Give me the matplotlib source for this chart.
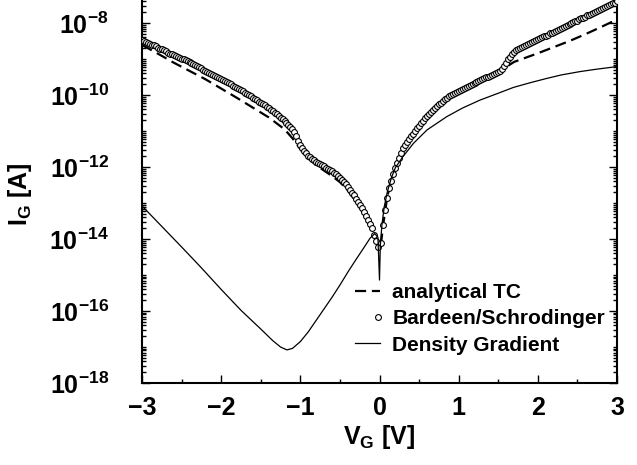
import numpy as np
import matplotlib
matplotlib.use("Agg")
import matplotlib.pyplot as plt
from matplotlib.ticker import FixedLocator, MultipleLocator, LogLocator, NullFormatter, FuncFormatter
from matplotlib.legend_handler import HandlerLine2D

plt.rcParams['font.family'] = ['Liberation Sans', 'DejaVu Sans']
plt.rcParams['font.weight'] = 'bold'
plt.rcParams['mathtext.fontset'] = 'custom'
plt.rcParams['mathtext.rm'] = 'Liberation Sans:bold'
plt.rcParams['mathtext.it'] = 'Liberation Sans:bold'
plt.rcParams['mathtext.bf'] = 'Liberation Sans:bold'

# ---- data (log10 of gate current in A) ----
# Bardeen/Schrodinger (circles): left branch
bs_v_left = [-3.000, -2.975, -2.950, -2.925, -2.900, -2.875, -2.850, -2.825, -2.800, -2.775,
             -2.750, -2.725, -2.700, -2.675, -2.650, -2.625, -2.600, -2.575, -2.550, -2.525,
             -2.500, -2.475, -2.450, -2.425, -2.400, -2.375, -2.350, -2.325, -2.300, -2.275,
             -2.250, -2.225, -2.200, -2.175, -2.150, -2.125, -2.100, -2.075, -2.050, -2.025,
             -2.000, -1.975, -1.950, -1.925, -1.900, -1.875, -1.850, -1.825, -1.800, -1.775,
             -1.750, -1.725, -1.700, -1.675, -1.650, -1.625, -1.600, -1.575, -1.550, -1.525,
             -1.500, -1.475, -1.450, -1.425, -1.400, -1.375, -1.350, -1.325, -1.300, -1.275,
             -1.250, -1.225, -1.200, -1.175, -1.150, -1.125, -1.100, -1.075, -1.050, -1.025,
             -1.000, -0.975, -0.950, -0.925, -0.900, -0.875, -0.850, -0.825, -0.800, -0.775,
             -0.750, -0.725, -0.700, -0.675, -0.650, -0.625, -0.600, -0.575, -0.550, -0.525,
             -0.500, -0.475, -0.450, -0.425, -0.400, -0.375, -0.350, -0.325, -0.300, -0.275,
             -0.250, -0.225, -0.200, -0.175, -0.150, -0.125, -0.100, -0.070, -0.040, -0.015]
bs_log_left = [-8.47, -8.50, -8.52, -8.55, -8.57, -8.60, -8.62, -8.65, -8.68, -8.71,
               -8.73, -8.76, -8.79, -8.82, -8.85, -8.87, -8.90, -8.92, -8.95, -8.97,
               -8.99, -9.01, -9.04, -9.06, -9.08, -9.11, -9.14, -9.17, -9.20, -9.23,
               -9.26, -9.30, -9.33, -9.36, -9.38, -9.41, -9.44, -9.47, -9.49, -9.52,
               -9.55, -9.58, -9.61, -9.64, -9.67, -9.70, -9.74, -9.77, -9.80, -9.83,
               -9.87, -9.90, -9.94, -9.97, -10.01, -10.04, -10.08, -10.11, -10.15, -10.18,
               -10.22, -10.25, -10.29, -10.33, -10.37, -10.41, -10.45, -10.49, -10.54, -10.58,
               -10.63, -10.67, -10.72, -10.77, -10.83, -10.89, -10.95, -11.04, -11.15, -11.27,
               -11.38, -11.47, -11.55, -11.62, -11.68, -11.73, -11.77, -11.81, -11.85, -11.89,
               -11.92, -11.95, -11.98, -12.02, -12.05, -12.09, -12.12, -12.16, -12.20, -12.25,
               -12.30, -12.36, -12.42, -12.48, -12.55, -12.63, -12.71, -12.79, -12.88, -12.97,
               -13.06, -13.15, -13.25, -13.36, -13.47, -13.58, -13.70, -13.88, -14.05, -14.22]
# Bardeen/Schrodinger (circles): right branch
bs_v_right = [0.025, 0.050, 0.075, 0.100, 0.125, 0.150, 0.175, 0.200, 0.225, 0.250,
              0.275, 0.300, 0.325, 0.350, 0.375, 0.400, 0.425, 0.450, 0.475, 0.500,
              0.525, 0.550, 0.575, 0.600, 0.625, 0.650, 0.675, 0.700, 0.725, 0.750,
              0.775, 0.800, 0.825, 0.850, 0.875, 0.900, 0.925, 0.950, 0.975, 1.000,
              1.025, 1.050, 1.075, 1.100, 1.125, 1.150, 1.175, 1.200, 1.225, 1.250,
              1.275, 1.300, 1.325, 1.350, 1.375, 1.400, 1.425, 1.450, 1.475, 1.500,
              1.525, 1.550, 1.575, 1.600, 1.625, 1.650, 1.675, 1.700, 1.725, 1.750,
              1.775, 1.800, 1.825, 1.850, 1.875, 1.900, 1.925, 1.950, 1.975, 2.000,
              2.025, 2.050, 2.075, 2.100, 2.125, 2.150, 2.175, 2.200, 2.225, 2.250,
              2.275, 2.300, 2.325, 2.350, 2.375, 2.400, 2.425, 2.450, 2.475, 2.500,
              2.525, 2.550, 2.575, 2.600, 2.625, 2.650, 2.675, 2.700, 2.725, 2.750,
              2.775, 2.800, 2.825, 2.850, 2.875, 2.900, 2.925, 2.950, 2.975, 3.000]
bs_log_right = [-14.10, -13.62, -13.20, -12.85, -12.58, -12.38, -12.18, -12.02, -11.88, -11.74,
                -11.60, -11.48, -11.38, -11.30, -11.22, -11.15, -11.07, -10.99, -10.92, -10.85,
                -10.78, -10.71, -10.64, -10.58, -10.52, -10.47, -10.41, -10.36, -10.31, -10.26,
                -10.21, -10.17, -10.12, -10.08, -10.04, -10.00, -9.97, -9.94, -9.91, -9.88,
                -9.85, -9.82, -9.80, -9.77, -9.75, -9.72, -9.70, -9.67, -9.64, -9.61,
                -9.59, -9.56, -9.53, -9.51, -9.49, -9.47, -9.44, -9.42, -9.40, -9.37,
                -9.33, -9.28, -9.20, -9.10, -9.01, -8.93, -8.86, -8.80, -8.76, -8.72,
                -8.69, -8.66, -8.63, -8.61, -8.58, -8.55, -8.53, -8.50, -8.48, -8.45,
                -8.42, -8.40, -8.37, -8.35, -8.32, -8.29, -8.27, -8.24, -8.21, -8.19,
                -8.16, -8.14, -8.11, -8.08, -8.06, -8.03, -8.00, -7.98, -7.95, -7.93,
                -7.90, -7.87, -7.85, -7.82, -7.79, -7.77, -7.74, -7.72, -7.69, -7.67,
                -7.64, -7.62, -7.59, -7.56, -7.54, -7.51, -7.48, -7.45, -7.43, -7.40]

# analytical TC (dashed)
tc_v = [-3.0, -2.8, -2.6, -2.4, -2.2, -2.0, -1.8, -1.6, -1.4, -1.2, -1.1, -1.0,
        -0.9, -0.8, -0.7, -0.6, -0.5, -0.4, -0.3, -0.2, -0.1, -0.02,
        0.02, 0.05, 0.1, 0.2, 0.3, 0.4, 0.5, 0.6, 0.7, 0.8, 0.9, 1.0, 1.2, 1.4, 1.5,
        1.6, 1.7, 1.8, 2.0, 2.2, 2.4, 2.6, 2.8, 3.0]
tc_log = [-8.61, -8.85, -9.10, -9.33, -9.56, -9.82, -10.08, -10.35, -10.62, -10.95, -11.20, -11.50,
          -11.75, -11.95, -12.10, -12.25, -12.42, -12.65, -12.95, -13.30, -13.75, -14.20,
          -14.10, -13.55, -12.80, -12.00, -11.47, -11.15, -10.85, -10.58, -10.36, -10.17, -10.00, -9.88, -9.67, -9.47, -9.37,
          -9.22, -9.08, -9.00, -8.84, -8.67, -8.50, -8.31, -8.11, -7.90]

# Density Gradient (solid)
dg_v = [-3.0, -2.75, -2.5, -2.25, -2.0, -1.75, -1.5, -1.35, -1.25, -1.17, -1.1, -1.0,
        -0.9, -0.75, -0.6, -0.5, -0.4, -0.3, -0.2, -0.12, -0.06, -0.02, 0.0,
        0.01, 0.03, 0.06, 0.1, 0.15, 0.2, 0.3, 0.43, 0.6, 0.85, 1.05, 1.27, 1.5, 1.69,
        1.9, 2.11, 2.3, 2.53, 2.75, 3.0]
dg_log = [-13.08, -13.65, -14.22, -14.80, -15.40, -15.98, -16.50, -16.82, -17.00, -17.08, -17.04, -16.85,
          -16.58, -16.10, -15.62, -15.28, -14.92, -14.58, -14.25, -13.98, -13.85, -13.95, -15.14,
          -14.20, -13.62, -13.10, -12.68, -12.30, -12.02, -11.70, -11.34, -10.97, -10.60, -10.36, -10.14, -9.95, -9.79,
          -9.66, -9.54, -9.44, -9.35, -9.28, -9.21]

labels = ['analytical TC', 'Bardeen/Schrodinger', 'Density Gradient']
xticks = [-3, -2, -1, 0, 1, 2, 3]
yticks_exp = [-18, -16, -14, -12, -10, -8]

bs_v = bs_v_left + bs_v_right
bs_log = bs_log_left + bs_log_right

fig = plt.figure(figsize=(6.37, 4.65), dpi=100)
ax = fig.add_axes([142/637, 82/465, 475/637, 383/465])

ax.plot(tc_v, 10.0**np.array(tc_log), color='black', lw=1.6, dashes=(5, 2.6), label=labels[0], zorder=2)
ax.plot(bs_v, 10.0**np.array(bs_log), ls='none', marker='o', ms=4.2, mfc='white', mec='black', mew=0.8,
        label=labels[1], zorder=3)
ax.plot(dg_v, 10.0**np.array(dg_log), color='black', lw=0.9, label=labels[2], zorder=4)

ax.set_yscale('log')
ax.set_xlim(-3, 3)
ax.set_ylim(1e-18, 10**-7.36)

ax.xaxis.set_major_locator(FixedLocator(xticks))
ax.xaxis.set_minor_locator(MultipleLocator(0.5))
ax.xaxis.set_major_formatter(FuncFormatter(lambda v, p: ('\u2212%d' % abs(round(v))) if v < 0 else '%d' % round(v)))

ax.yaxis.set_major_locator(FixedLocator([10.0**e for e in yticks_exp]))
ax.yaxis.set_minor_locator(LogLocator(base=10, subs=np.arange(1, 10), numticks=100))
ax.yaxis.set_major_formatter(FuncFormatter(lambda v, p: r'$\mathbf{10^{%d}}$' % round(np.log10(v))))
ax.yaxis.set_minor_formatter(NullFormatter())

for s in ['left', 'right', 'bottom']:
    ax.spines[s].set_linewidth(1.5)
ax.spines['top'].set_visible(False)

ax.tick_params(axis='both', which='both', direction='in', width=1.0, top=False)
ax.tick_params(axis='y', which='both', right=True)
ax.tick_params(axis='both', which='major', length=5.5)
ax.tick_params(axis='both', which='minor', length=3)
ax.tick_params(axis='x', which='major', labelsize=18, pad=9)
ax.tick_params(axis='y', which='major', labelsize=18, pad=24)
for t in ax.get_xticklabels():
    t.set_fontweight('bold')

ax.set_xlabel(r'V$_{\mathbf{G}}$ [V]', fontsize=18, fontweight='bold')
ax.xaxis.set_label_coords(0.499, -0.105)
ax.set_ylabel(r'I$_{\mathbf{G}}$ [A]', fontsize=18, fontweight='bold')
ax.yaxis.set_label_coords(-0.228, 0.493)


class RightMarkerHandler(HandlerLine2D):
    # single legend marker placed near the right end of the handle box
    def get_xdata(self, legend, xdescent, ydescent, width, height, fontsize):
        xm = -xdescent + width * 0.93
        xdata = [xm - 1.0, xm + 1.0]
        return xdata, [xm]


h = ax.get_legend_handles_labels()
leg = ax.legend(h[0], h[1], loc='lower right', bbox_to_anchor=(1.014, 0.025), frameon=False,
                prop={'weight': 'bold', 'size': 15}, handlelength=1.2, handletextpad=0.58,
                labelspacing=0.35, numpoints=1,
                handler_map={h[0][1]: RightMarkerHandler(numpoints=1)})

fig.savefig('out.png', dpi=100)
